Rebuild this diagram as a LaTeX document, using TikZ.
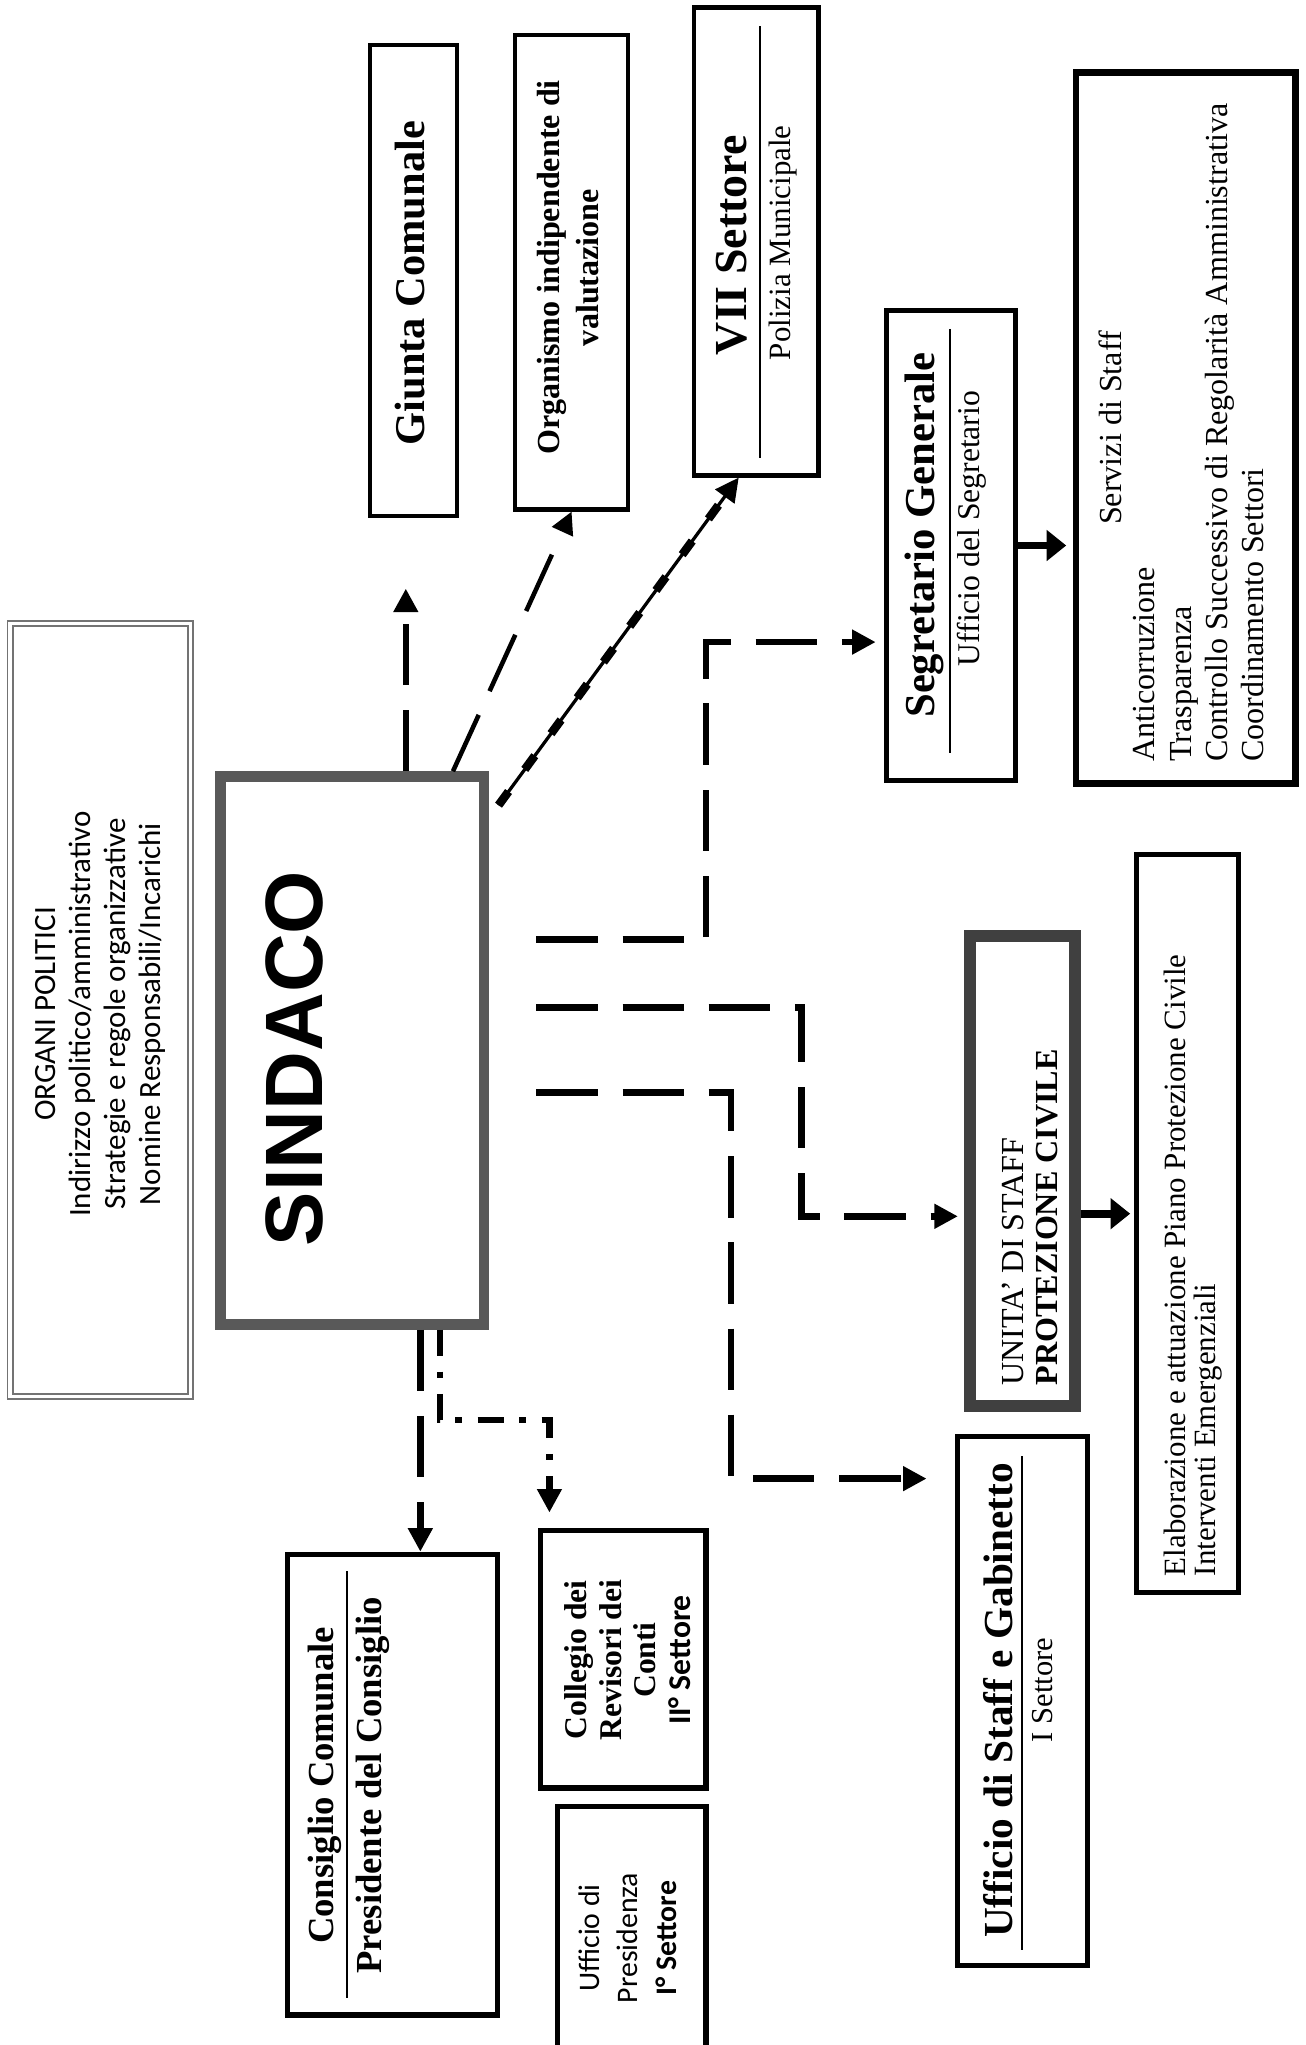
\documentclass[tikz,border=0pt]{standalone}
\usepackage{fontspec}
\setmainfont{Liberation Serif}
\newfontfamily\calibri{Carlito}
\newfontfamily\arialfont{Liberation Sans}
\usetikzlibrary{positioning,calc,arrows.meta}
\newcommand{\fsz}[2]{\fontsize{#1}{#2}\selectfont}

\begin{document}
\begin{tikzpicture}[x=0.2mm,y=-0.2mm,
  box/.style={draw,inner sep=0pt,line width=0.7mm},
  lbl/.style={rotate=90,inner sep=0pt,align=center},
  rulel/.style={line width=0.3mm},
  dline/.style={line width=1mm,dash pattern=on 9.4mm off 3.8mm,-{Triangle[length=3.6mm,width=3.6mm]}},
  sline/.style={line width=1.2mm,-{Triangle[length=3mm,width=4.6mm]}}]

\useasboundingbox (0,0) rectangle (1000,1567);

% boxes
\node[box,draw=black!55,double,line width=0.3mm,double distance=0.5mm,minimum width=27.7mm,minimum height=118.5mm](organi) at (77,774) {};
\node[box,draw=black!65,line width=1.6mm,minimum width=40.4mm,minimum height=84mm](sindaco) at (270,805) {};
\node[box,line width=0.6mm,minimum width=13.4mm,minimum height=72.2mm](giunta) at (317,215) {};
\node[box,minimum width=17.3mm,minimum height=72.7mm](organismo) at (438,208.5) {};
\node[box,minimum width=19.1mm,minimum height=71.7mm](vii) at (579.5,185) {};
\node[box,line width=0.8mm,minimum width=19.8mm,minimum height=72mm](segretario) at (728.5,418) {};
\node[box,line width=1mm,minimum width=33.6mm,minimum height=109mm](servizi) at (908.5,328) {};
\node[box,draw=black!75,line width=1.8mm,minimum width=16mm,minimum height=72mm](protezione) at (783.5,897.5) {};
\node[box,line width=0.8mm,minimum width=15.6mm,minimum height=113mm](elaborazione) at (910,937.5) {};
\node[box,minimum width=19.9mm,minimum height=81.1mm](ufficiostaff) at (783.5,1303.5) {};
\node[box,line width=0.8mm,minimum width=32.2mm,minimum height=70.6mm](consiglio) at (300.5,1367.5) {};
\node[box,line width=0.8mm,minimum width=25.4mm,minimum height=39.4mm](collegio) at (477.5,1271.5) {};
\node[box,line width=0.8mm,minimum width=22.8mm,minimum height=42.8mm](presidenza) at (484,1491) {};

% texts
\node[lbl,font=\calibri\fsz{13.5}{15.2}](organitxt) at (77,777) {ORGANI POLITICI\\Indirizzo politico/amministrativo\\Strategie e regole organizzative\\Nomine Responsabili/Incarichi};
\node[lbl,font=\arialfont\bfseries\fsz{35.5}{40}](sindacotxt) at (226,811) {SINDACO};
\node[lbl,font=\bfseries\fsz{18.5}{22}](giuntatxt) at (314,217) {Giunta Comunale};
\node[lbl,font=\bfseries\fsz{14}{17}](organismotxt) at (435,205) {Organismo indipendente di\\valutazione};
\node[lbl,font=\bfseries\fsz{20}{24}](viitxt) at (561,188) {VII Settore};
\node[lbl,font=\fsz{13.5}{16}](poliziatxt) at (600,186) {Polizia Municipale};
\draw[rulel] (582,20) -- (582,351);
\node[lbl,font=\bfseries\fsz{18.6}{22}](segretariotxt) at (708,410) {Segretario Generale};
\draw[rulel] (728,252) -- (728,577);
\node[lbl,font=\fsz{13.8}{16}](ufficiosegtxt) at (745,405) {Ufficio del Segretario};
\node[lbl,font=\fsz{14}{16}](servizitxt) at (851,328) {Servizi di Staff};
\node[lbl,anchor=west,align=left,font=\fsz{14}{15.8}](servizilist) at (918.5,584) {Anticorruzione\\Trasparenza\\Controllo Successivo di Regolarità Amministrativa\\Coordinamento Settori};
\node[lbl,anchor=west,align=left,font=\fsz{14}{14.8}](protezionetxt) at (789,1062) {UNITA’ DI STAFF\\\textbf{PROTEZIONE CIVILE}};
\node[lbl,anchor=west,align=left,font=\fsz{13.5}{13}](elaborazionetxt) at (914,1208) {Elaborazione e attuazione Piano Protezione Civile\\Interventi Emergenziali};
\node[lbl,font=\bfseries\fsz{18}{22}](ufficiostafftxt) at (765,1303) {Ufficio di Staff e Gabinetto};
\draw[rulel] (783,1116) -- (783,1494);
\node[lbl,font=\fsz{13.3}{16}](isettoretxt) at (799,1295) {I Settore};
\node[lbl,font=\bfseries\fsz{16}{19}](consigliotxt) at (249,1368) {Consiglio Comunale};
\draw[rulel] (266,1204) -- (266,1531);
\node[lbl,font=\bfseries\fsz{16}{19}](presidentetxt) at (286,1368) {Presidente del Consiglio};
\node[lbl,font=\bfseries\fsz{13.8}{15}](collegiotxt) at (481,1272) {Collegio dei\\Revisori dei\\Conti\\{\calibri II° Settore}};
\node[lbl,font=\calibri\fsz{13}{16.8}](presidenzatxt) at (481,1485) {Ufficio di\\Presidenza\\\textbf{I° Settore}};

% connectors from sindaco
\coordinate (a1) at ($(sindaco.north west)!0.695!(sindaco.north east)$);
\coordinate (o1) at ($(sindaco.north west)!0.867!(sindaco.north east)$);
\draw[dline,shorten >=10.8mm] (a1) -- (a1 |- giunta.south);
\draw[dline,line width=0.7mm,dash pattern=on 9.5mm off 4mm,-{Triangle[length=3.4mm,width=3.4mm]}] (o1) -- (organismo.south);

\coordinate (v1) at ([shift={(1.4mm,-5.2mm)}]sindaco.north east);
\coordinate (v2) at ([xshift=-2.7mm]vii.south);
\draw[line width=0.5mm,-{Triangle[length=3.6mm,width=3.6mm]}] (v1) -- (v2);
\draw[line width=1.3mm,dash pattern=on 2.6mm off 4.2mm,shorten >=4mm] (v1) -- (v2);

\coordinate (d1) at (411,720);
\coordinate (e1) at (411,772);
\coordinate (f1) at (411,837);
\coordinate (dc) at (541,492);
\coordinate (ec) at (614,932);
\coordinate (fc) at (560,1133);
\draw[dline,shorten >=1.2mm] (d1) -| (dc) -- (dc -| segretario.west);
\draw[dline,shorten >=1mm] (e1) -| (ec) -- (ec -| protezione.west);
\draw[dline,shorten >=4.4mm] (f1) -| (fc) -- (fc -| ufficiostaff.west);

\coordinate (g1) at ($(sindaco.south west)!0.748!(sindaco.south east)$);
\coordinate (h1) at ($(sindaco.south west)!0.819!(sindaco.south east)$);
\coordinate (hc) at (421,1088);
\draw[dline] (g1) -- (g1 |- consiglio.north);
\draw[dline,dash pattern=on 4mm off 2.4mm on 1mm off 2.4mm,shorten >=2.4mm] (h1) |- (hc) -- (hc |- collegio.north);

% solid arrows
\draw[sline,shorten >=1mm] (segretario.east) -- (segretario.east -| servizi.west);
\coordinate (pe) at ([yshift=-6.5mm]protezione.east);
\draw[sline,shorten >=0.6mm] (pe) -- (pe -| elaborazione.west);
\end{tikzpicture}
\end{document}
